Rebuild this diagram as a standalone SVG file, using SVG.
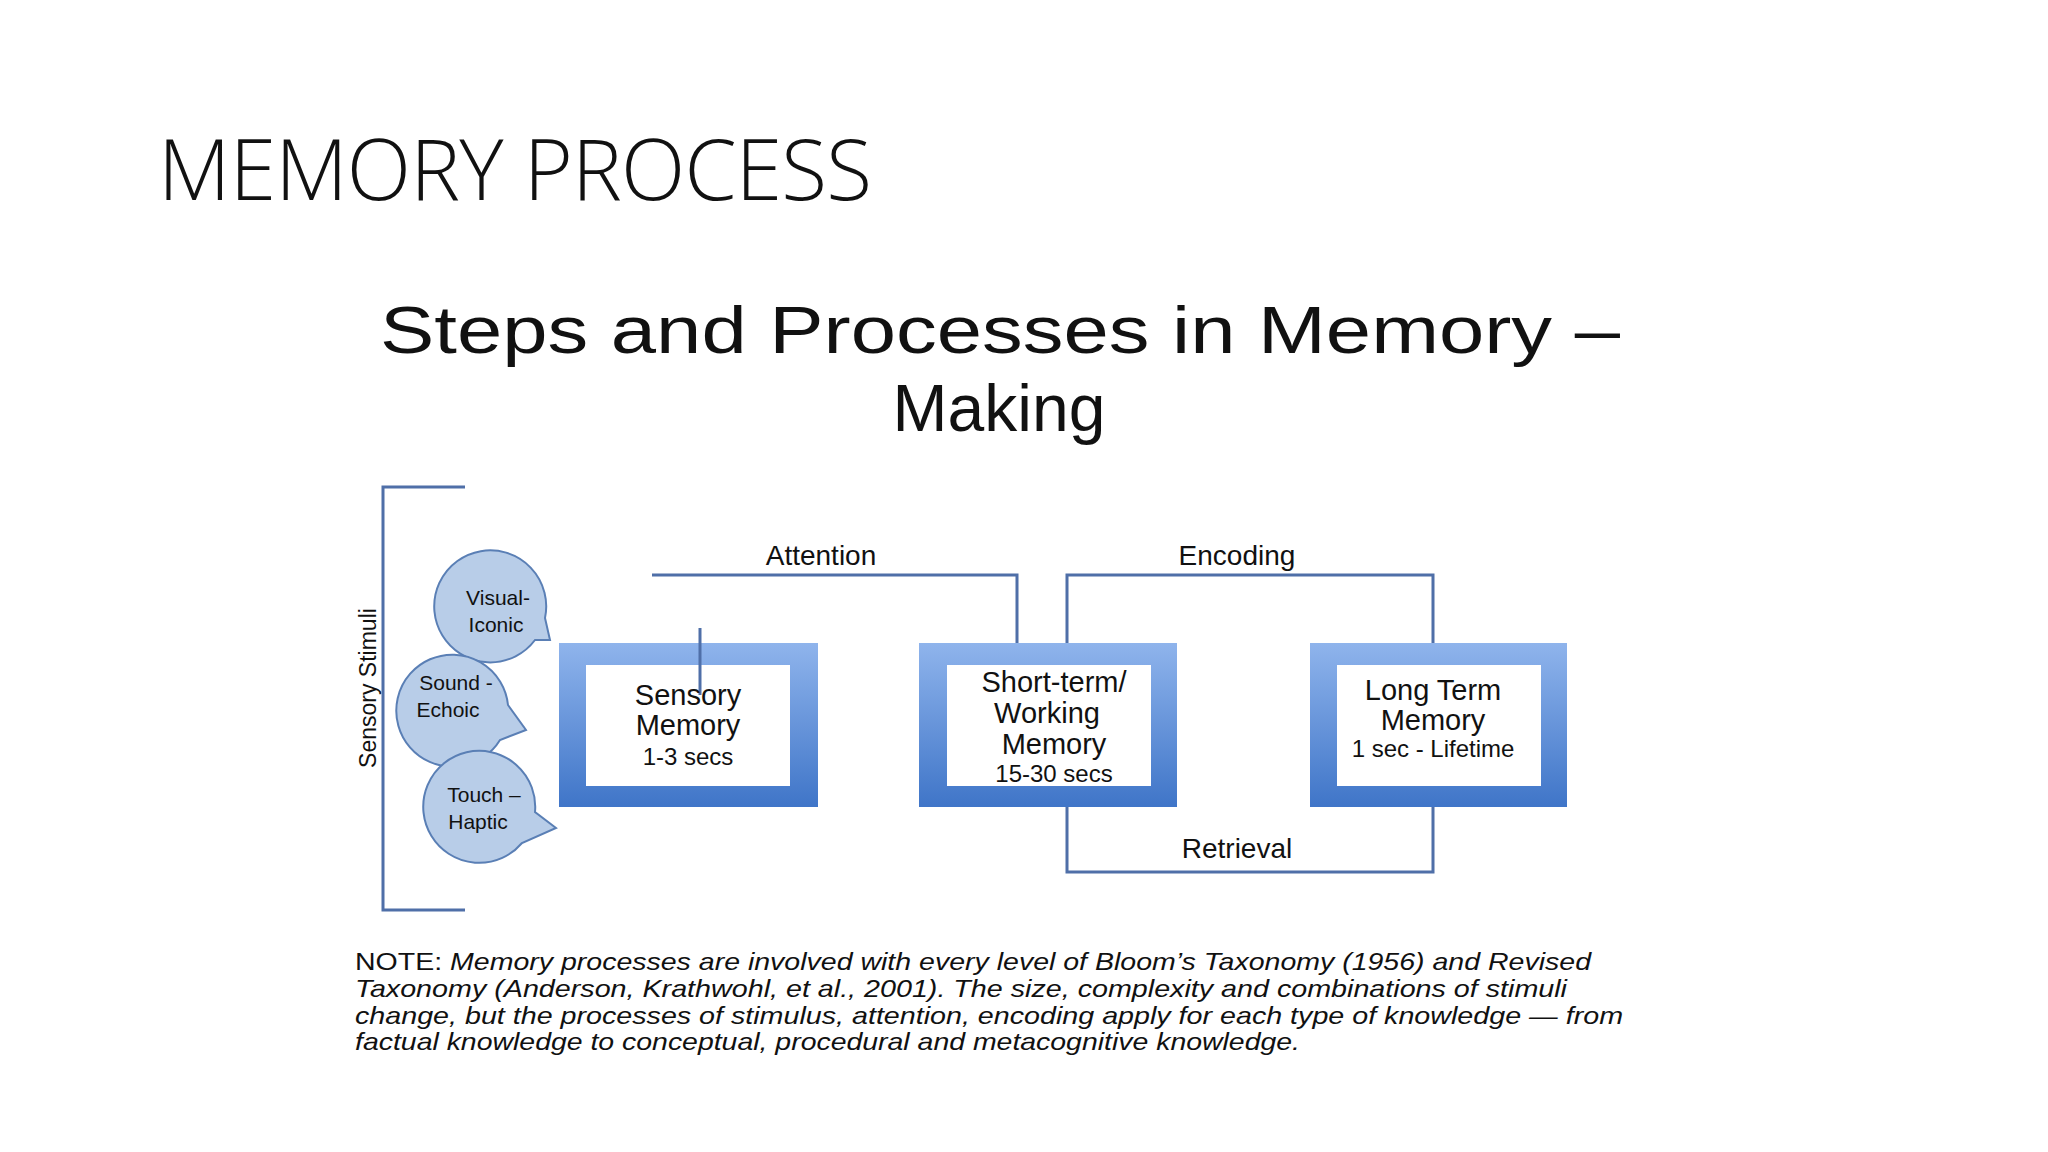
<svg xmlns="http://www.w3.org/2000/svg" width="2048" height="1152" viewBox="0 0 2048 1152">
<defs>
<linearGradient id="bg" x1="0" y1="0" x2="0" y2="1">
<stop offset="0" stop-color="#8fb4ec"/><stop offset="1" stop-color="#3f75c8"/>
</linearGradient>
<style>
text{font-family:"Liberation Sans",Arial,sans-serif;fill:#111}
.ln{fill:none;stroke:#4f6fa8;stroke-width:3}
.bub{fill:#b8cde8;stroke:#5a7fb5;stroke-width:2}
.bt{font-size:21px;text-anchor:middle}
.nt{font-size:29px;text-anchor:middle}
.ns{font-size:24px;text-anchor:middle}
.lb{font-size:28px;text-anchor:middle}
.note{font-size:24px}
</style>
</defs>
<rect width="2048" height="1152" fill="#fff"/>
<text x="158" y="200" style="font-family:'Open Sans',sans-serif;font-weight:300" font-size="84" textLength="714">MEMORY PROCESS</text>
<text x="380" y="353" font-size="66" textLength="1240" lengthAdjust="spacingAndGlyphs">Steps and Processes in Memory –</text>
<text x="999" y="431" font-size="66" text-anchor="middle">Making</text>

<g id="bracket"><path class="ln" d="M465,487 H383 V910 H465"/>
<text transform="translate(376,688) rotate(-90)" font-size="23" text-anchor="middle">Sensory Stimuli</text></g>

<g id="visual"><path class="bub" d="M535,640 A56,56 0 1 1 545,618 L550,640 Z"/>
<text class="bt" x="498" y="605">Visual-</text><text class="bt" x="496" y="632">Iconic</text></g>
<g id="sound"><path class="bub" d="M508,705 A56,56 0 1 0 500,740 L526,730 Z"/>
<text class="bt" x="456" y="690">Sound -</text><text class="bt" x="448" y="717">Echoic</text></g>
<g id="touch"><path class="bub" d="M535,812 A56,56 0 1 0 522,843 L556,828 Z"/>
<text class="bt" x="484" y="802">Touch –</text><text class="bt" x="478" y="829">Haptic</text></g>

<g id="connectors">
<path class="ln" d="M652,575 H1017 V643"/>
<path class="ln" d="M1067,643 V575 H1433 V643"/>
<path class="ln" d="M1067,807 V872 H1433 V807"/>
<text class="lb" x="821" y="565">Attention</text>
<text class="lb" x="1237" y="565">Encoding</text>
<text class="lb" x="1237" y="858">Retrieval</text>
</g>

<g id="sensory"><rect x="559" y="643" width="259" height="164" fill="url(#bg)"/><rect x="586" y="665" width="204" height="121" fill="#fff"/>
<path class="ln" d="M700,628 V695"/>
<text class="nt" x="688" y="705">Sensory</text><text class="nt" x="688" y="735">Memory</text><text class="ns" x="688" y="765">1-3 secs</text></g>
<g id="short"><rect x="919" y="643" width="258" height="164" fill="url(#bg)"/><rect x="947" y="665" width="204" height="121" fill="#fff"/>
<text class="nt" x="1054" y="692">Short-term/</text><text class="nt" x="1047" y="723">Working</text><text class="nt" x="1054" y="754">Memory</text><text class="ns" x="1054" y="782">15-30 secs</text></g>
<g id="long"><rect x="1310" y="643" width="257" height="164" fill="url(#bg)"/><rect x="1337" y="665" width="204" height="121" fill="#fff"/>
<text class="nt" x="1433" y="700">Long Term</text><text class="nt" x="1433" y="730">Memory</text><text class="ns" x="1433" y="757">1 sec - Lifetime</text></g>

<g id="note">
<text x="355" y="970" class="note" textLength="1236" lengthAdjust="spacingAndGlyphs">NOTE: <tspan font-style="italic">Memory processes are involved with every level of Bloom’s Taxonomy (1956) and Revised</tspan></text>
<text x="355" y="997" class="note" font-style="italic" textLength="1212" lengthAdjust="spacingAndGlyphs">Taxonomy (Anderson, Krathwohl, et al., 2001).  The size, complexity and combinations of stimuli</text>
<text x="355" y="1024" class="note" font-style="italic" textLength="1268" lengthAdjust="spacingAndGlyphs">change, but the processes of stimulus, attention, encoding apply for each type of knowledge  — from</text>
<text x="355" y="1050" class="note" font-style="italic" textLength="945" lengthAdjust="spacingAndGlyphs">factual knowledge to conceptual, procedural and metacognitive knowledge.</text>
</g>
</svg>
